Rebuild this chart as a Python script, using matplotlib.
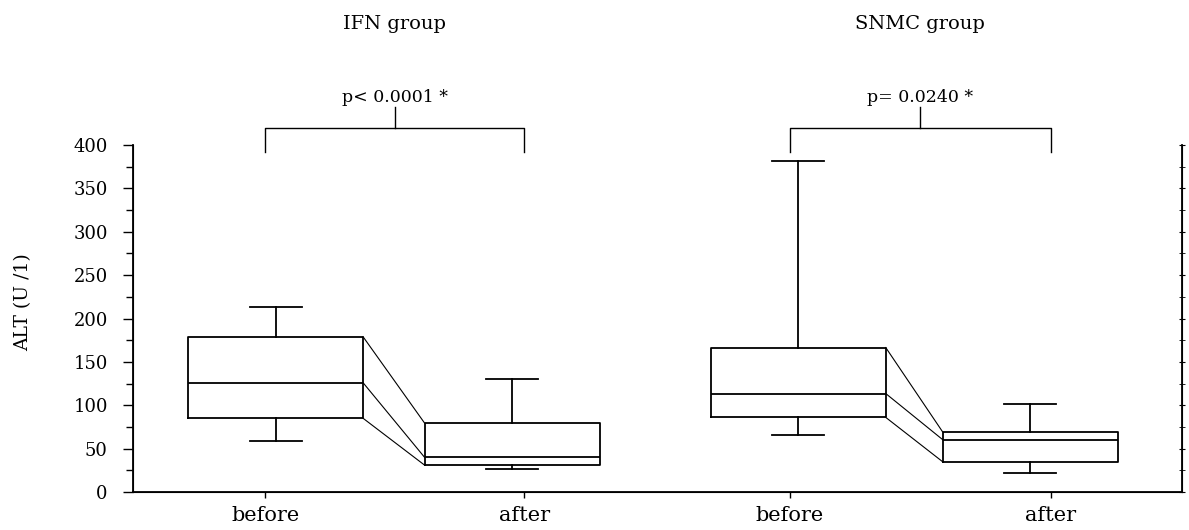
import numpy as np
import matplotlib.pyplot as plt

# values (ALT, U/l)
groups = ["IFN group", "SNMC group"]
labels = ["before", "after", "before", "after"]
whis_lo = [59, 26, 65.5, 21.5]
q1 = [85, 31, 86, 35]
med = [126, 40, 113.5, 60.5]
q3 = [179, 79.5, 166.5, 69.5]
whis_hi = [213.5, 130, 381, 101.5]
p_texts = ["p< 0.0001 *", "p= 0.0240 *"]

positions = [1.0, 2.0, 3.21, 4.19]
tick_pos = [0.956, 2.051, 3.175, 4.277]
width = 0.74

plt.rcParams['font.family'] = ['DejaVu Serif']

fig = plt.figure(figsize=(11.89, 5.30), dpi=100)
ax = fig.add_axes([0.1119, 0.0717, 0.8823, 0.6547])

stats = []
for i in range(4):
    stats.append(dict(whislo=whis_lo[i], q1=q1[i], med=med[i], q3=q3[i], whishi=whis_hi[i]))

lw = 1.3
ax.bxp(stats, positions=positions, widths=width, showfliers=False, capwidths=0.22,
       boxprops=dict(color='black', linewidth=lw),
       medianprops=dict(color='black', linewidth=lw),
       whiskerprops=dict(color='black', linewidth=lw),
       capprops=dict(color='black', linewidth=lw),
       manage_ticks=False)

# lines joining the before / after boxes
for b, a in [(0, 1), (2, 3)]:
    for vals in (q1, med, q3):
        ax.plot([positions[b] + width / 2, positions[a] - width / 2], [vals[b], vals[a]],
                color='black', linewidth=0.8)

# brackets with p values and group titles
for g in range(2):
    xl, xr = tick_pos[2 * g], tick_pos[2 * g + 1]
    xm = (xl + xr) / 2
    ax.plot([xl, xl, xr, xr], [392, 420, 420, 392], color='black', linewidth=1.0, clip_on=False)
    ax.plot([xm, xm], [420, 444], color='black', linewidth=1.0, clip_on=False)
    ax.text(xm, 455, p_texts[g], ha='center', va='center', fontsize=12.5)
    ax.text(xm, 540, groups[g], ha='center', va='center', fontsize=14)

ax.set_xlim(0.3975, 4.833)
ax.set_ylim(0, 400)
ax.set_yticks(np.arange(0, 401, 50))
ax.set_yticks(np.arange(0, 401, 25), minor=True)
ax.set_xticks(tick_pos)
ax.set_xticklabels(labels, fontsize=15)
ax.tick_params(axis='y', labelsize=13, length=7.2, width=1, pad=11)
ax.tick_params(axis='y', which='minor', length=5, width=1)
ax.tick_params(axis='x', length=4, width=1, pad=6)

ax.spines['top'].set_visible(False)
for s in ['left', 'bottom', 'right']:
    ax.spines[s].set_linewidth(1.3)

# right axis: ticks only
ax2 = ax.twinx()
ax2.set_ylim(0, 400)
ax2.set_yticks(np.arange(0, 401, 50))
ax2.set_yticks(np.arange(0, 401, 25), minor=True)
ax2.tick_params(axis='y', which='both', direction='inout', length=5, labelright=False)
ax2.spines['top'].set_visible(False)

ax.set_ylabel("ALT (U /1)", fontsize=13.5)
ax.yaxis.set_label_coords(-0.096, 0.547)

fig.savefig("out.png", dpi=100)
